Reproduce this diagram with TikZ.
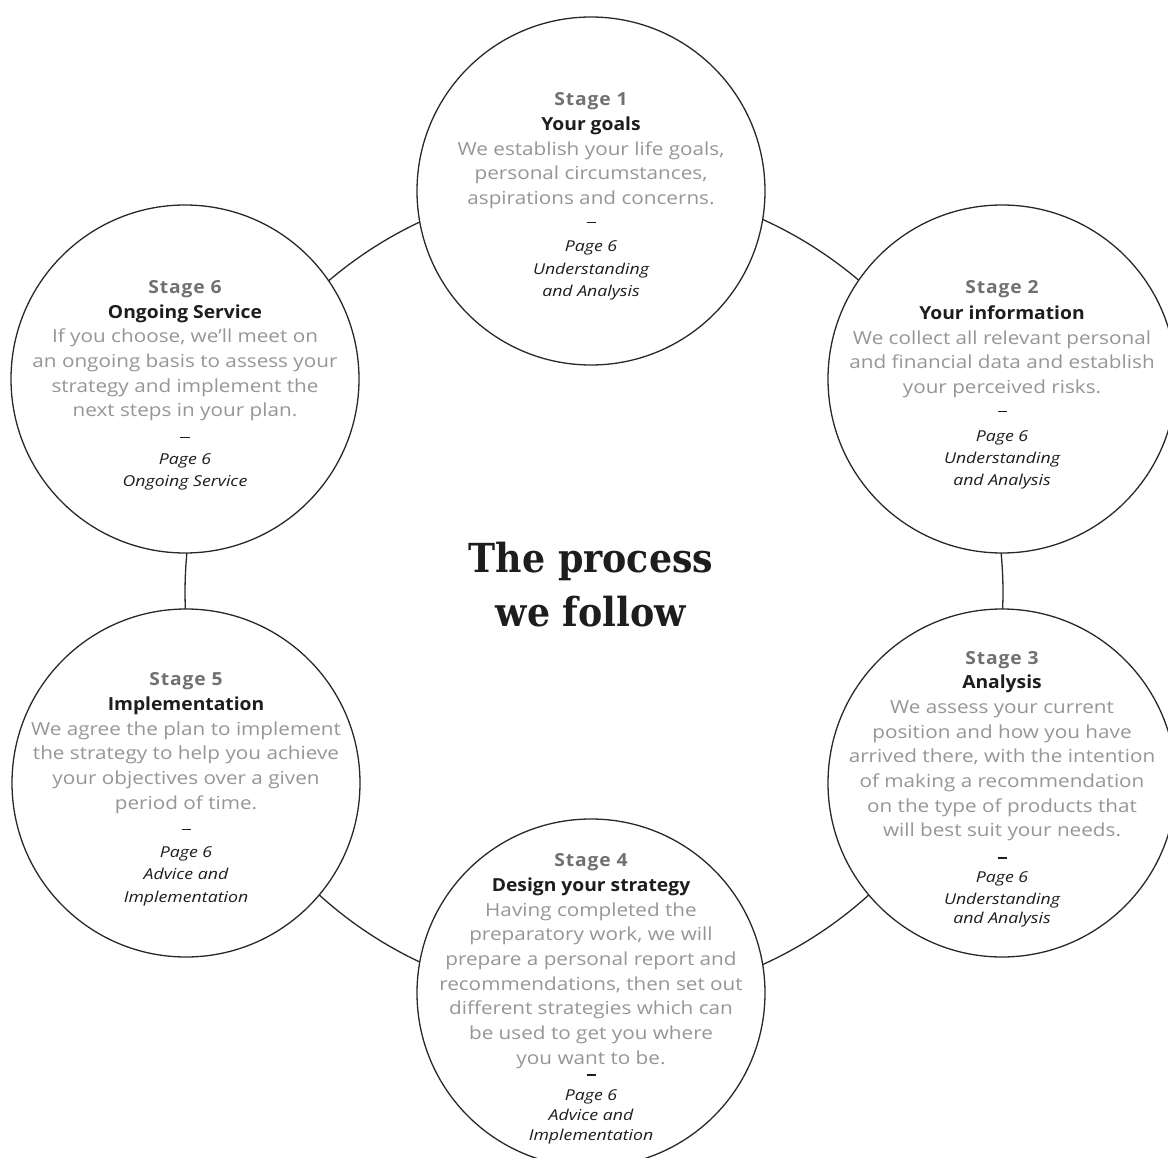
\documentclass[tikz,border=0pt]{standalone}
\usepackage{fontspec}
\setmainfont{Open Sans}[FakeStretch=1.15, BoldFeatures={FakeStretch=1.07}, ItalicFeatures={FakeStretch=1.18}]
\newfontfamily\titlefont{DejaVu Serif}[FakeStretch=0.91]
\usetikzlibrary{calc,backgrounds}
\definecolor{ink}{RGB}{30,28,29}
\definecolor{stagegray}{RGB}{112,112,114}
\definecolor{bodygray}{RGB}{150,150,150}
\definecolor{linecol}{RGB}{40,40,40}
\newcommand\stg[1]{{\bfseries\addfontfeature{LetterSpace=5}\color{stagegray}#1}}
\newcommand\hd[1]{{\bfseries\color{ink}#1}}
\newcommand\pg[1]{{\fontsize{15}{22}\selectfont\itshape\color{ink}#1}}
\newcommand\dsh{{\color{ink}\rule[4.5pt]{9pt}{1.5pt}}}
\tikzset{
  stagecircle/.style={circle, draw=linecol, line width=1.3pt, fill=white, minimum size=348pt, inner sep=0pt},
  ringline/.style={draw=linecol, line width=1.3pt},
  txt/.style={align=center, text=bodygray, inner sep=0pt, anchor=north, font=\fontsize{18}{24.7}\selectfont},
  titletext/.style={align=center, text=ink, inner sep=0pt, font=\titlefont\bfseries\fontsize{40}{54}\selectfont}
}
\begin{document}
\begin{tikzpicture}[x=1pt,y=-1pt]
\useasboundingbox (0,0) rectangle (1168,1158);
\clip (0,0) rectangle (1168,1158);
\coordinate (ring) at (594,592);
\node[stagecircle] (s1) at (591,191) {};
\node[stagecircle] (s2) at (1002,379) {};
\node[stagecircle] (s3) at (1002,783) {};
\node[stagecircle] (s4) at (591,993) {};
\node[stagecircle] (s5) at (186,783) {};
\node[stagecircle] (s6) at (185,379) {};
\begin{scope}[on background layer]
\foreach \a/\b in {s1/s2,s2/s3,s3/s4,s4/s5,s5/s6,s6/s1}
  \draw[ringline] let \p1=($(\a)-(ring)$), \p2=($(\b)-(ring)$),
    \n1={atan2(\y1,\x1)}, \n2={atan2(\y2,\x2)},
    \n3={ifthenelse(\n2>\n1,\n2-360,\n2)} in
    ($(ring)+(\n1:409pt)$) arc[start angle=\n1, end angle=\n3, radius=409pt];
\end{scope}
\node[txt] (t1) at ($(s1.center)+(0,-98.5)$) {\stg{Stage 1}\\ \hd{Your goals}\\ We establish your life goals,\\ personal circumstances,\\ aspirations and concerns.\\[-1.3pt] \dsh\\[-0.7pt] \pg{Page 6}\\[-2.1pt] \pg{Understanding}\\[-3pt] \pg{and Analysis}};
\node[txt] (t2) at ($(s2.center)+(0,-98.8)$) {\stg{Stage 2}\\[1.3pt] \hd{Your information}\\ We collect all relevant personal\\ and financial data and establish\\ your perceived risks.\\[-1.4pt] \dsh\\[0.3pt] \pg{Page 6}\\[-3pt] \pg{Understanding}\\[-2.4pt] \pg{and Analysis}};
\node[txt] (t3) at ($(s3.center)+(0,-132.2)$) {\stg{Stage 3}\\ \hd{Analysis}\\ We assess your current\\ position and how you have\\ arrived there, with the intention\\ of making a recommendation\\ on the type of products that\\ will best suit your needs.\\[1.5pt] \dsh\\[-4.9pt] \pg{Page 6}\\[-3.4pt] \pg{Understanding}\\[-5.3pt] \pg{and Analysis}};
\node[txt] (t4) at ($(s4.center)+(0,-139.5)$) {\stg{Stage 4}\\ \hd{Design your strategy}\\ Having completed the\\ preparatory work, we will\\ prepare a personal report and\\ recommendations, then set out\\ different strategies which can\\ be used to get you where\\ you want to be.\\[-8.7pt] \dsh\\[-4.7pt] \pg{Page 6}\\[-4.7pt] \pg{Advice and}\\[-4.7pt] \pg{Implementation}};
\node[txt] (t5) at ($(s5.center)+(0,-110.5)$) {\stg{Stage 5}\\ \hd{Implementation}\\ We agree the plan to implement\\ the strategy to help you achieve\\ your objectives over a given\\ period of time.\\[0.9pt] \dsh\\[-2pt] \pg{Page 6}\\[-2.4pt] \pg{Advice and}\\[-2pt] \pg{Implementation}};
\node[txt] (t6) at ($(s6.center)+(0,-98.8)$) {\stg{Stage 6}\\ \hd{Ongoing Service}\\ If you choose, we’ll meet on\\ an ongoing basis to assess your\\ strategy and implement the\\ next steps in your plan.\\[1.3pt] \dsh\\[-3pt] \pg{Page 6}\\[-2.5pt] \pg{Ongoing Service}};
\node[titletext] (title) at (591,585) {The process\\we follow};
\end{tikzpicture}
\end{document}
